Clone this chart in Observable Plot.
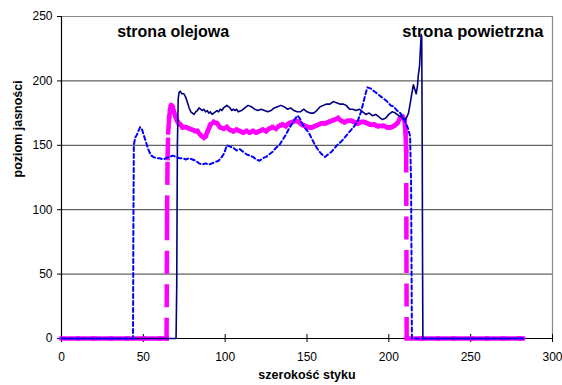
<!DOCTYPE html>
<html>
<head>
<meta charset="utf-8">
<script src="https://cdn.jsdelivr.net/npm/d3@7"></script>
<script src="https://cdn.jsdelivr.net/npm/@observablehq/plot@0.6"></script>
<style>
  html, body { margin: 0; padding: 0; background: #fff; }
  #chart svg { display: block; }
</style>
</head>
<body>
<div id="chart"></div>
<script>
// Axis ticks
const xTicks = [0, 50, 100, 150, 200, 250, 300];
const yTicks = [0, 50, 100, 150, 200, 250];
const gridValues = [50, 100, 150, 200];

// Annotations
const labelLeft = "strona olejowa";
const labelRight = "strona powietrzna";
const xTitle = "szerokość styku";
const yTitle = "poziom jasności";

// Series 1: solid navy line  [szerokość, poziom]
const navyPoints = [
  [0, 0], [70, 0], [70.4, 40], [70.8, 150], [71.3, 186], [71.8, 191], [72.5, 192], [73.5, 190], [74.8, 190], [76, 187],
  [77, 183], [78, 179], [79, 176], [80, 175], [81, 174], [82, 176], [83, 177], [84, 179], [85, 178], [86, 177],
  [87, 178], [88, 176], [89, 177], [90, 175], [91, 176], [92, 174], [93, 175], [94, 176], [95, 177], [96, 176],
  [97, 178], [98, 177], [99, 179], [100, 180], [101, 181], [102, 180], [103, 179], [104, 177], [105, 178], [106, 177],
  [107, 178], [108, 176], [110, 177], [112, 179], [114, 181], [116, 180], [118, 178], [120, 177], [122, 178], [124, 177],
  [126, 176], [128, 177], [130, 179], [132, 180], [134, 181], [136, 180], [138, 178], [140, 179], [142, 177], [144, 176],
  [146, 176], [148, 178], [150, 176], [152, 175], [154, 175], [156, 177], [158, 180], [160, 181], [162, 182], [164, 182],
  [166, 184], [168, 183], [170, 182], [172, 182], [174, 181], [176, 178], [178, 178], [180, 177], [182, 178], [184, 176],
  [186, 174], [188, 175], [190, 173], [192, 174], [194, 172], [196, 170], [198, 171], [200, 174], [202, 176], [204, 175],
  [206, 173], [208, 172], [209, 170], [210, 170], [211, 172], [212, 175], [213, 182], [214, 190], [215, 197], [216, 193],
  [216.7, 190], [217.5, 196], [218, 204], [218.8, 212], [219.3, 225], [219.8, 236], [220.1, 234], [220.4, 150], [220.6, 60], [220.8, 0],
  [282, 0]
];

// Series 2: dotted blue line
const bluePoints = [
  [0, 0], [43.7, 0], [43.9, 80], [44.2, 150], [45, 156], [46, 158], [47, 161], [48, 164], [49, 163], [50, 159],
  [51, 155], [52, 151], [53, 147], [54, 144], [55, 142], [56, 141], [58, 140], [60, 140], [62, 139], [64, 140],
  [66, 141], [68, 142], [70, 141], [72, 140], [74, 140], [76, 139], [78, 140], [80, 139], [82, 138], [84, 136],
  [86, 135], [88, 136], [90, 135], [92, 136], [94, 137], [96, 138], [98, 141], [99, 143], [100, 146], [101, 150],
  [103, 149], [105, 148], [107, 146], [109, 147], [111, 145], [113, 143], [115, 142], [117, 141], [119, 139], [121, 138],
  [123, 140], [125, 141], [127, 143], [129, 145], [131, 148], [133, 150], [135, 154], [137, 158], [139, 163], [141, 167],
  [143, 171], [144, 173], [145, 172], [146, 170], [147, 167], [149, 163], [151, 160], [153, 155], [155, 150], [157, 146],
  [159, 143], [161, 141], [163, 143], [165, 145], [167, 148], [169, 151], [171, 153], [173, 156], [175, 159], [177, 162],
  [179, 165], [181, 169], [183, 176], [185, 186], [186, 191], [187, 195], [189, 194], [191, 192], [193, 190], [195, 188],
  [197, 186], [199, 184], [201, 181], [203, 180], [205, 177], [207, 175], [209, 171], [210.5, 167], [212, 162], [213, 157],
  [213.6, 120], [213.9, 50], [214.1, 0], [282, 0]
];

// Series 3: dashed magenta line
const magentaPoints = [
  [0, 0], [10, 0], [20, 0], [30, 0], [40, 0], [50, 0], [60, 0], [64.2, 0], [64.5, 95], [64.8, 140],
  [65.2, 160], [65.8, 172], [66.4, 178], [67, 181], [67.8, 180], [68.7, 176], [69.7, 172], [70.7, 169], [71.7, 167], [72.7, 166],
  [74, 164], [76, 164], [78, 163], [80, 162], [82, 161], [83, 161], [85, 158], [87, 156], [88, 157], [89, 160],
  [90, 163], [91, 166], [93, 168], [95, 167], [97, 164], [99, 163], [101, 164], [103, 162], [105, 161], [107, 162],
  [109, 161], [111, 160], [113, 161], [115, 160], [117, 161], [119, 160], [121, 161], [123, 162], [125, 161], [127, 163],
  [129, 164], [131, 163], [133, 165], [135, 166], [137, 165], [139, 167], [141, 168], [143, 169], [145, 168], [147, 166],
  [149, 165], [151, 164], [153, 164], [155, 165], [157, 166], [159, 167], [161, 167], [163, 168], [165, 169], [167, 170],
  [169, 171], [171, 169], [173, 168], [175, 169], [177, 169], [179, 168], [181, 167], [183, 168], [185, 168], [187, 167],
  [189, 166], [191, 166], [193, 165], [195, 165], [197, 165], [199, 164], [201, 164], [203, 165], [205, 167], [207, 171],
  [208.5, 172], [209.5, 170], [210.2, 160], [210.6, 145], [210.9, 0], [220, 0], [230, 0], [240, 0], [250, 0], [260, 0],
  [270, 0], [280, 0], [282, 0]
];

const toRows = (pts) => pts.map(([x, y]) => ({x, y}));
const toSegments = (pts) => pts.slice(1).map(([x2, y2], i) => ({x1: pts[i][0], y1: pts[i][1], x2, y2}));

const navy = toRows(navyPoints);
const blue = toRows(bluePoints);
const magentaSegs = toSegments(magentaPoints);

const font = "'Liberation Sans', Arial, sans-serif";

const chart = Plot.plot({
  width: 562,
  height: 385,
  marginLeft: 61,
  marginRight: 10,
  marginTop: 16,
  marginBottom: 47,
  style: {fontFamily: font, fontSize: "12px", color: "#000", background: "#fff", overflow: "visible"},
  x: {domain: [0, 300], ticks: xTicks},
  y: {domain: [0, 250], ticks: yTicks},
  marks: [
    // gridlines
    Plot.ruleY(gridValues, {stroke: "#3a3a3a", strokeWidth: 1}),
    // plot area border (top, right)
    Plot.ruleY([250], {stroke: "#8a8a8a", strokeWidth: 1.2}),
    Plot.ruleX([300], {stroke: "#8a8a8a", strokeWidth: 1.2}),
    // axes
    Plot.axisY({ticks: yTicks, tickSize: 4, tickPadding: 5, label: null, fontSize: 12}),
    Plot.axisX({ticks: xTicks, tickSize: 4, tickPadding: 10, label: null, fontSize: 12}),
    Plot.ruleX(xTicks, {y1: 0, y2: 0, insetTop: -4, insetBottom: 0, stroke: "#000"}),
    Plot.ruleX([0], {stroke: "#000", strokeWidth: 1.2}),
    Plot.ruleY([0], {stroke: "#000", strokeWidth: 1.2}),
    // series (magenta drawn segment by segment so its dash pattern restarts on every segment)
    Plot.link(magentaSegs, {x1: "x1", y1: "y1", x2: "x2", y2: "y2", stroke: "#FF00FF", strokeWidth: 4.5, strokeDasharray: "18.5,15", strokeLinecap: "square"}),
    Plot.line(navy, {x: "x", y: "y", stroke: "#000080", strokeWidth: 1.6, strokeLinejoin: "round"}),
    Plot.line(blue, {x: "x", y: "y", stroke: "#0000FF", strokeWidth: 2, strokeDasharray: "4,3", strokeLinejoin: "round"}),
    // annotations
    Plot.text([labelLeft], {x: 34, y: 234, text: d => d, textAnchor: "start", lineAnchor: "bottom", fontWeight: "bold", fontSize: 16, fill: "#000"}),
    Plot.text([labelRight], {x: 208.2, y: 234, text: d => d, textAnchor: "start", lineAnchor: "bottom", fontWeight: "bold", fontSize: 16.5, fill: "#000"}),
    // axis titles
    Plot.text([yTitle], {frameAnchor: "left", text: d => d, rotate: -90, dx: -44, fontWeight: "bold", fontSize: 12.5, fill: "#000"}),
    Plot.text([xTitle], {frameAnchor: "bottom", text: d => d, dy: 40, fontWeight: "bold", fontSize: 12.5, fill: "#000"})
  ]
});
document.getElementById("chart").append(chart);
</script>
</body>
</html>
